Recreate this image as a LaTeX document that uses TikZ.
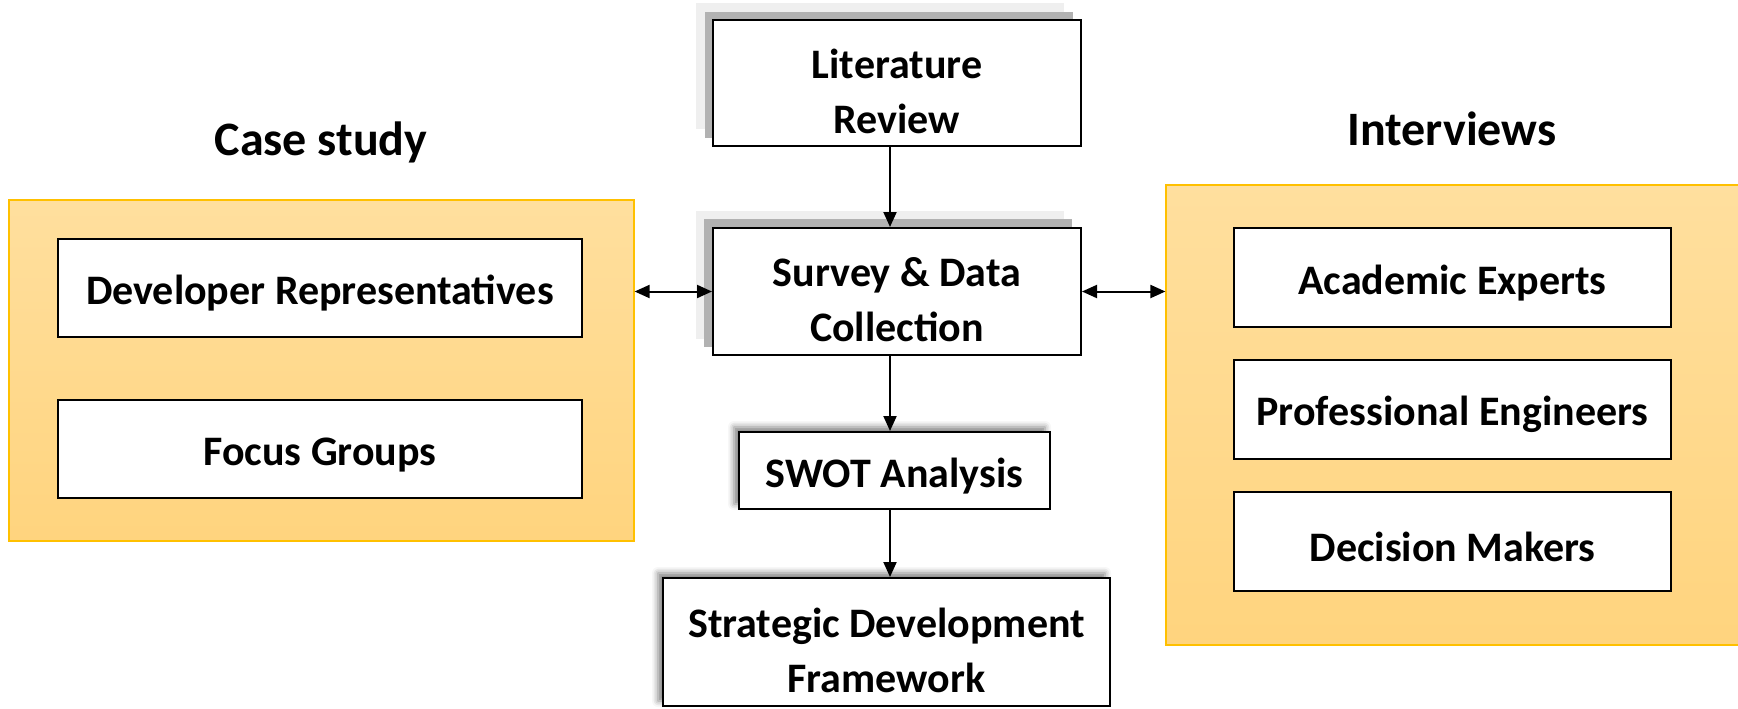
\documentclass[tikz,border=0pt]{standalone}
\usepackage{fontspec}
\setmainfont{Carlito}
\usetikzlibrary{arrows.meta,shadows.blur}
\definecolor{panelTop}{RGB}{255,223,158}
\definecolor{panelBot}{RGB}{255,212,126}
\definecolor{panelEdge}{RGB}{255,192,0}
\definecolor{shDark}{RGB}{178,178,178}
\definecolor{shLight}{RGB}{239,239,239}
\newcommand{\lowerstrut}{\rule{0pt}{23pt}}
\newcommand{\onestrut}{\rule{0pt}{20pt}}
\tikzset{
  box/.style={draw=black, line width=1pt, fill=white, inner sep=0pt, align=center,
    font=\bfseries\fontsize{21}{27.5}\selectfont},
  panel/.style={draw=panelEdge, line width=0.6pt, shading=axis, top color=panelTop, bottom color=panelBot, inner sep=0pt},
  heading/.style={font=\bfseries\fontsize{24}{29}\selectfont, inner sep=0pt},
  soft/.style={blur shadow={shadow xshift=-2.5pt, shadow yshift=2.5pt, shadow blur radius=3pt, shadow opacity=50}},
  arr/.style={-{Triangle[length=7.5pt,width=6.5pt]}, line width=1pt},
  darr/.style={{Triangle[length=7.5pt,width=6.5pt]}-{Triangle[length=7.5pt,width=6.5pt]}, line width=1pt}
}
\begin{document}
\begin{tikzpicture}[x=0.5pt,y=-0.5pt]
\useasboundingbox (0,0) rectangle (1738,708);
% panels
\node[panel, minimum width=312.5pt, minimum height=170.5pt] (lp) at (321.5,370.5) {};
\node[panel, minimum width=287pt, minimum height=230pt] (rp) at (1453,415) {};
\node[heading] (cs) at (321,142) {Case study};
\node[heading] (iv) at (1452,129) {Interviews};
% left panel boxes
\node[box, minimum width=262pt, minimum height=49pt] (dev) at (320,288) {\onestrut Developer Representatives};
\node[box, minimum width=262pt, minimum height=49pt] (fg) at (320,449) {\onestrut Focus Groups};
% right panel boxes
\node[box, minimum width=218.5pt, minimum height=49.5pt] (ae) at (1452.5,277.5) {\onestrut Academic Experts};
\node[box, minimum width=218.5pt, minimum height=49.5pt] (pe) at (1452.5,409.5) {\onestrut Professional Engineers};
\node[box, minimum width=218.5pt, minimum height=49.5pt] (dm) at (1452.5,541.5) {\onestrut Decision Makers};
% stepped shadows
\fill[shLight] (696,3) rectangle (1064,129);
\fill[shDark] (705,12) rectangle (1073,138);
\fill[shLight] (696,211) rectangle (1064,339);
\fill[shDark] (704,219) rectangle (1072,347);
% centre boxes
\node[box, minimum width=184pt, minimum height=63pt] (lit) at (897,83) {\lowerstrut Literature\\Review};
\node[box, minimum width=184pt, minimum height=63.5pt] (surv) at (897,291.5) {\lowerstrut Survey \& Data\\Collection};
\node[box, soft, minimum width=155.5pt, minimum height=38.5pt] (sw) at (894.5,470.5) {\onestrut SWOT Analysis};
\node[box, soft, minimum width=223.5pt, minimum height=64pt] (sdf) at (886.5,642) {\lowerstrut Strategic Development\\Framework};
% connectors
\draw[arr] ([xshift=-3.5pt]lit.south) -- ([xshift=-3.5pt]lit.south |- surv.north);
\draw[arr] ([xshift=-3.5pt]surv.south) -- ([xshift=-3.5pt]surv.south |- sw.north);
\draw[arr] ([xshift=-2.25pt]sw.south) -- ([xshift=-2.25pt]sw.south |- sdf.north);
\draw[darr] (surv.west -| lp.east) -- (surv.west);
\draw[darr] (surv.east) -- (surv.east -| rp.west);
\end{tikzpicture}
\end{document}
